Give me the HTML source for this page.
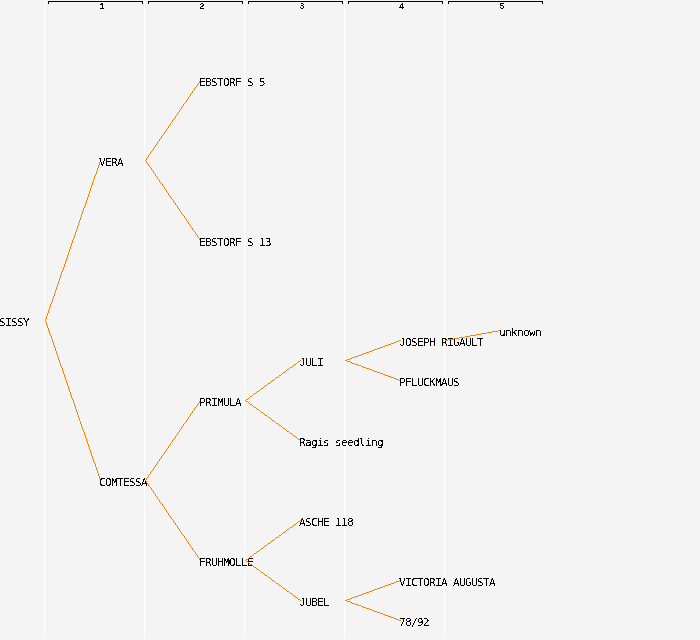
<!DOCTYPE html>
<html><head><meta charset="utf-8"><title>Pedigree</title>
<style>
html,body{margin:0;padding:0;background:#f4f4f4;width:700px;height:640px;overflow:hidden}
svg{display:block;position:absolute;left:0;top:0;will-change:transform}
.t{font-family:"DejaVu Sans Mono", "Liberation Mono", monospace;font-size:11.0px;fill:#000}
.m{font-size:10.5px}
.j{font-family:"Liberation Sans",sans-serif;font-size:11.5px}
.n{font-family:"Liberation Mono","DejaVu Sans Mono",monospace;font-size:9.5px;font-weight:bold;fill:#000}
</style></head><body>
<svg width="700" height="640" viewBox="0 0 700 640">
<defs><filter id="th" x="-10" y="-10" width="720" height="660" filterUnits="userSpaceOnUse" color-interpolation-filters="sRGB"><feComponentTransfer><feFuncA type="discrete" tableValues="0 0 1 1"/></feComponentTransfer></filter><filter id="thn" x="90" y="-5" width="430" height="20" filterUnits="userSpaceOnUse" color-interpolation-filters="sRGB"><feComponentTransfer><feFuncA type="discrete" tableValues="0 0 0 1 1"/></feComponentTransfer></filter></defs>
<rect x="-10" y="-10" width="720" height="660" fill="#f4f4f4"/>
<path fill="#fff" shape-rendering="crispEdges" d="M44 1h1v637h-1zM144 1h1v637h-1zM244 1h1v637h-1zM344 1h1v637h-1zM444 1h1v637h-1z"/>
<path fill="#000" shape-rendering="crispEdges" d="M48 1H143v3h-1v-2H49v2h-1zM148 1H243v3h-1v-2H149v2h-1zM248 1H343v3h-1v-2H249v2h-1zM348 1H443v3h-1v-2H349v2h-1zM448 1H543v3h-1v-2H449v2h-1z"/>
<g class="n" filter="url(#thn)"><text x="99" y="9">1</text><text x="199" y="9">2</text><text x="299" y="9">3</text><text x="399" y="9">4</text><text x="499" y="9">5</text></g>
<g class="t" filter="url(#th)"><text x="-1 5 11 17 23" y="326">SISSY</text></g>
<path fill="#ff8000" shape-rendering="crispEdges" d="M45 319v2h1v-2zM46 316v3h1v-3zM47 313v3h1v-3zM48 310v3h1v-3zM49 307v3h1v-3zM50 304v3h1v-3zM51 302v2h1v-2zM52 299v3h1v-3zM53 296v3h1v-3zM54 293v3h1v-3zM55 290v3h1v-3zM56 287v3h1v-3zM57 284v3h1v-3zM58 281v3h1v-3zM59 278v3h1v-3zM60 275v3h1v-3zM61 272v3h1v-3zM62 270v2h1v-2zM63 267v3h1v-3zM64 264v3h1v-3zM65 261v3h1v-3zM66 258v3h1v-3zM67 255v3h1v-3zM68 252v3h1v-3zM69 249v3h1v-3zM70 246v3h1v-3zM71 243v3h1v-3zM72 240v3h1v-3zM73 238v2h1v-2zM74 235v3h1v-3zM75 232v3h1v-3zM76 229v3h1v-3zM77 226v3h1v-3zM78 223v3h1v-3zM79 220v3h1v-3zM80 217v3h1v-3zM81 214v3h1v-3zM82 211v3h1v-3zM83 208v3h1v-3zM84 206v2h1v-2zM85 203v3h1v-3zM86 200v3h1v-3zM87 197v3h1v-3zM88 194v3h1v-3zM89 191v3h1v-3zM90 188v3h1v-3zM91 185v3h1v-3zM92 182v3h1v-3zM93 179v3h1v-3zM94 176v3h1v-3zM95 174v2h1v-2zM96 171v3h1v-3zM97 168v3h1v-3zM98 165v3h1v-3zM99 162v3h1v-3zM100 160v2h1v-2zM45 320v2h1v-2zM46 322v3h1v-3zM47 325v3h1v-3zM48 328v3h1v-3zM49 331v3h1v-3zM50 334v2h1v-2zM51 336v3h1v-3zM52 339v3h1v-3zM53 342v3h1v-3zM54 345v3h1v-3zM55 348v3h1v-3zM56 351v3h1v-3zM57 354v3h1v-3zM58 357v3h1v-3zM59 360v3h1v-3zM60 363v3h1v-3zM61 366v2h1v-2zM62 368v3h1v-3zM63 371v3h1v-3zM64 374v3h1v-3zM65 377v3h1v-3zM66 380v3h1v-3zM67 383v3h1v-3zM68 386v3h1v-3zM69 389v3h1v-3zM70 392v3h1v-3zM71 395v3h1v-3zM72 398v2h1v-2zM73 400v3h1v-3zM74 403v3h1v-3zM75 406v3h1v-3zM76 409v3h1v-3zM77 412v3h1v-3zM78 415v3h1v-3zM79 418v3h1v-3zM80 421v3h1v-3zM81 424v3h1v-3zM82 427v3h1v-3zM83 430v2h1v-2zM84 432v3h1v-3zM85 435v3h1v-3zM86 438v3h1v-3zM87 441v3h1v-3zM88 444v3h1v-3zM89 447v3h1v-3zM90 450v3h1v-3zM91 453v3h1v-3zM92 456v3h1v-3zM93 459v3h1v-3zM94 462v2h1v-2zM95 464v3h1v-3zM96 467v3h1v-3zM97 470v3h1v-3zM98 473v3h1v-3zM99 476v3h1v-3zM100 479v2h1v-2z"/>
<g class="t" filter="url(#th)"><text x="99 105 111 117" y="166">VERA</text><text x="99 105 111.5 117 123 129 135 141" y="486">CO<tspan class="m">M</tspan>TESSA</text></g>
<path fill="#ff8000" shape-rendering="crispEdges" d="M145 160v1h1v-1zM146 158v2h1v-2zM147 157v1h1v-1zM148 155v2h1v-2zM149 154v1h1v-1zM150 152v2h1v-2zM151 151v1h1v-1zM152 150v1h1v-1zM153 148v2h1v-2zM154 147v1h1v-1zM155 145v2h1v-2zM156 144v1h1v-1zM157 142v2h1v-2zM158 141v1h1v-1zM159 139v2h1v-2zM160 138v1h1v-1zM161 136v2h1v-2zM162 135v1h1v-1zM163 134v1h1v-1zM164 132v2h1v-2zM165 131v1h1v-1zM166 129v2h1v-2zM167 128v1h1v-1zM168 126v2h1v-2zM169 125v1h1v-1zM170 123v2h1v-2zM171 122v1h1v-1zM172 120v2h1v-2zM173 119v1h1v-1zM174 118v1h1v-1zM175 116v2h1v-2zM176 115v1h1v-1zM177 113v2h1v-2zM178 112v1h1v-1zM179 110v2h1v-2zM180 109v1h1v-1zM181 107v2h1v-2zM182 106v1h1v-1zM183 104v2h1v-2zM184 103v1h1v-1zM185 102v1h1v-1zM186 100v2h1v-2zM187 99v1h1v-1zM188 97v2h1v-2zM189 96v1h1v-1zM190 94v2h1v-2zM191 93v1h1v-1zM192 91v2h1v-2zM193 90v1h1v-1zM194 88v2h1v-2zM195 87v1h1v-1zM196 86v1h1v-1zM197 84v2h1v-2zM198 83v1h1v-1zM199 81v2h1v-2zM200 80v1h1v-1zM145 160v1h1v-1zM146 161v2h1v-2zM147 163v1h1v-1zM148 164v2h1v-2zM149 166v1h1v-1zM150 167v1h1v-1zM151 168v2h1v-2zM152 170v1h1v-1zM153 171v2h1v-2zM154 173v1h1v-1zM155 174v2h1v-2zM156 176v1h1v-1zM157 177v2h1v-2zM158 179v1h1v-1zM159 180v2h1v-2zM160 182v1h1v-1zM161 183v1h1v-1zM162 184v2h1v-2zM163 186v1h1v-1zM164 187v2h1v-2zM165 189v1h1v-1zM166 190v2h1v-2zM167 192v1h1v-1zM168 193v2h1v-2zM169 195v1h1v-1zM170 196v2h1v-2zM171 198v1h1v-1zM172 199v1h1v-1zM173 200v2h1v-2zM174 202v1h1v-1zM175 203v2h1v-2zM176 205v1h1v-1zM177 206v2h1v-2zM178 208v1h1v-1zM179 209v2h1v-2zM180 211v1h1v-1zM181 212v2h1v-2zM182 214v1h1v-1zM183 215v1h1v-1zM184 216v2h1v-2zM185 218v1h1v-1zM186 219v2h1v-2zM187 221v1h1v-1zM188 222v2h1v-2zM189 224v1h1v-1zM190 225v2h1v-2zM191 227v1h1v-1zM192 228v2h1v-2zM193 230v1h1v-1zM194 231v1h1v-1zM195 232v2h1v-2zM196 234v1h1v-1zM197 235v2h1v-2zM198 237v1h1v-1zM199 238v2h1v-2zM200 240v1h1v-1zM145 480v1h1v-1zM146 478v2h1v-2zM147 477v1h1v-1zM148 475v2h1v-2zM149 474v1h1v-1zM150 472v2h1v-2zM151 471v1h1v-1zM152 470v1h1v-1zM153 468v2h1v-2zM154 467v1h1v-1zM155 465v2h1v-2zM156 464v1h1v-1zM157 462v2h1v-2zM158 461v1h1v-1zM159 459v2h1v-2zM160 458v1h1v-1zM161 456v2h1v-2zM162 455v1h1v-1zM163 454v1h1v-1zM164 452v2h1v-2zM165 451v1h1v-1zM166 449v2h1v-2zM167 448v1h1v-1zM168 446v2h1v-2zM169 445v1h1v-1zM170 443v2h1v-2zM171 442v1h1v-1zM172 440v2h1v-2zM173 439v1h1v-1zM174 438v1h1v-1zM175 436v2h1v-2zM176 435v1h1v-1zM177 433v2h1v-2zM178 432v1h1v-1zM179 430v2h1v-2zM180 429v1h1v-1zM181 427v2h1v-2zM182 426v1h1v-1zM183 424v2h1v-2zM184 423v1h1v-1zM185 422v1h1v-1zM186 420v2h1v-2zM187 419v1h1v-1zM188 417v2h1v-2zM189 416v1h1v-1zM190 414v2h1v-2zM191 413v1h1v-1zM192 411v2h1v-2zM193 410v1h1v-1zM194 408v2h1v-2zM195 407v1h1v-1zM196 406v1h1v-1zM197 404v2h1v-2zM198 403v1h1v-1zM199 401v2h1v-2zM200 400v1h1v-1zM145 480v1h1v-1zM146 481v2h1v-2zM147 483v1h1v-1zM148 484v2h1v-2zM149 486v1h1v-1zM150 487v1h1v-1zM151 488v2h1v-2zM152 490v1h1v-1zM153 491v2h1v-2zM154 493v1h1v-1zM155 494v2h1v-2zM156 496v1h1v-1zM157 497v2h1v-2zM158 499v1h1v-1zM159 500v2h1v-2zM160 502v1h1v-1zM161 503v1h1v-1zM162 504v2h1v-2zM163 506v1h1v-1zM164 507v2h1v-2zM165 509v1h1v-1zM166 510v2h1v-2zM167 512v1h1v-1zM168 513v2h1v-2zM169 515v1h1v-1zM170 516v2h1v-2zM171 518v1h1v-1zM172 519v1h1v-1zM173 520v2h1v-2zM174 522v1h1v-1zM175 523v2h1v-2zM176 525v1h1v-1zM177 526v2h1v-2zM178 528v1h1v-1zM179 529v2h1v-2zM180 531v1h1v-1zM181 532v2h1v-2zM182 534v1h1v-1zM183 535v1h1v-1zM184 536v2h1v-2zM185 538v1h1v-1zM186 539v2h1v-2zM187 541v1h1v-1zM188 542v2h1v-2zM189 544v1h1v-1zM190 545v2h1v-2zM191 547v1h1v-1zM192 548v2h1v-2zM193 550v1h1v-1zM194 551v1h1v-1zM195 552v2h1v-2zM196 554v1h1v-1zM197 555v2h1v-2zM198 557v1h1v-1zM199 558v2h1v-2zM200 560v1h1v-1z"/>
<g class="t" filter="url(#th)"><text x="199 205 211 217 223 229 235 241 247 253 259" y="86">EBSTORF S 5</text><text x="199 205 211 217 223 229 235 241 247 253 259 265" y="246">EBSTORF S 13</text><text x="199 205 211 217.5 223 229 235" y="406">PRI<tspan class="m">M</tspan>ULA</text><text x="199 205 211 217 223.5 229 235 241 247" y="566">FRUH<tspan class="m">M</tspan>OLLE</text></g>
<path fill="#ff8000" shape-rendering="crispEdges" d="M300 360h1v1h-1zM298 361h2v1h-2zM297 362h1v1h-1zM296 363h1v1h-1zM294 364h2v1h-2zM293 365h1v1h-1zM292 366h1v1h-1zM290 367h2v1h-2zM289 368h1v1h-1zM287 369h2v1h-2zM286 370h1v1h-1zM285 371h1v1h-1zM283 372h2v1h-2zM282 373h1v1h-1zM281 374h1v1h-1zM279 375h2v1h-2zM278 376h1v1h-1zM276 377h2v1h-2zM275 378h1v1h-1zM274 379h1v1h-1zM272 380h2v1h-2zM271 381h1v1h-1zM270 382h1v1h-1zM268 383h2v1h-2zM267 384h1v1h-1zM265 385h2v1h-2zM264 386h1v1h-1zM263 387h1v1h-1zM261 388h2v1h-2zM260 389h1v1h-1zM259 390h1v1h-1zM257 391h2v1h-2zM256 392h1v1h-1zM254 393h2v1h-2zM253 394h1v1h-1zM252 395h1v1h-1zM250 396h2v1h-2zM249 397h1v1h-1zM248 398h1v1h-1zM246 399h2v1h-2zM245 400h1v1h-1zM245 400h1v1h-1zM246 401h2v1h-2zM248 402h1v1h-1zM249 403h1v1h-1zM250 404h2v1h-2zM252 405h1v1h-1zM253 406h1v1h-1zM254 407h2v1h-2zM256 408h1v1h-1zM257 409h2v1h-2zM259 410h1v1h-1zM260 411h1v1h-1zM261 412h2v1h-2zM263 413h1v1h-1zM264 414h1v1h-1zM265 415h2v1h-2zM267 416h1v1h-1zM268 417h2v1h-2zM270 418h1v1h-1zM271 419h1v1h-1zM272 420h2v1h-2zM274 421h1v1h-1zM275 422h1v1h-1zM276 423h2v1h-2zM278 424h1v1h-1zM279 425h2v1h-2zM281 426h1v1h-1zM282 427h1v1h-1zM283 428h2v1h-2zM285 429h1v1h-1zM286 430h1v1h-1zM287 431h2v1h-2zM289 432h1v1h-1zM290 433h2v1h-2zM292 434h1v1h-1zM293 435h1v1h-1zM294 436h2v1h-2zM296 437h1v1h-1zM297 438h1v1h-1zM298 439h2v1h-2zM300 440h1v1h-1zM300 520h1v1h-1zM298 521h2v1h-2zM297 522h1v1h-1zM296 523h1v1h-1zM294 524h2v1h-2zM293 525h1v1h-1zM292 526h1v1h-1zM290 527h2v1h-2zM289 528h1v1h-1zM287 529h2v1h-2zM286 530h1v1h-1zM285 531h1v1h-1zM283 532h2v1h-2zM282 533h1v1h-1zM281 534h1v1h-1zM279 535h2v1h-2zM278 536h1v1h-1zM276 537h2v1h-2zM275 538h1v1h-1zM274 539h1v1h-1zM272 540h2v1h-2zM271 541h1v1h-1zM270 542h1v1h-1zM268 543h2v1h-2zM267 544h1v1h-1zM265 545h2v1h-2zM264 546h1v1h-1zM263 547h1v1h-1zM261 548h2v1h-2zM260 549h1v1h-1zM259 550h1v1h-1zM257 551h2v1h-2zM256 552h1v1h-1zM254 553h2v1h-2zM253 554h1v1h-1zM252 555h1v1h-1zM250 556h2v1h-2zM249 557h1v1h-1zM248 558h1v1h-1zM246 559h2v1h-2zM245 560h1v1h-1zM245 560h1v1h-1zM246 561h2v1h-2zM248 562h1v1h-1zM249 563h1v1h-1zM250 564h2v1h-2zM252 565h1v1h-1zM253 566h1v1h-1zM254 567h2v1h-2zM256 568h1v1h-1zM257 569h2v1h-2zM259 570h1v1h-1zM260 571h1v1h-1zM261 572h2v1h-2zM263 573h1v1h-1zM264 574h1v1h-1zM265 575h2v1h-2zM267 576h1v1h-1zM268 577h2v1h-2zM270 578h1v1h-1zM271 579h1v1h-1zM272 580h2v1h-2zM274 581h1v1h-1zM275 582h1v1h-1zM276 583h2v1h-2zM278 584h1v1h-1zM279 585h2v1h-2zM281 586h1v1h-1zM282 587h1v1h-1zM283 588h2v1h-2zM285 589h1v1h-1zM286 590h1v1h-1zM287 591h2v1h-2zM289 592h1v1h-1zM290 593h2v1h-2zM292 594h1v1h-1zM293 595h1v1h-1zM294 596h2v1h-2zM296 597h1v1h-1zM297 598h1v1h-1zM298 599h2v1h-2zM300 600h1v1h-1z"/>
<g class="t" filter="url(#th)"><text x="299.5 305 311 317" y="366"><tspan class="j">J</tspan>ULI</text><text x="299 305 311 317 323 329 335 341 347 353 359 365 371 377" y="446">Ragis seedling</text><text x="299 305 311 317 323 329 335 341 347" y="526">ASCHE 118</text><text x="299.5 305 311 317 323" y="606"><tspan class="j">J</tspan>UBEL</text></g>
<path fill="#ff8000" shape-rendering="crispEdges" d="M399 340h2v1h-2zM396 341h3v1h-3zM394 342h2v1h-2zM391 343h3v1h-3zM388 344h3v1h-3zM385 345h3v1h-3zM383 346h2v1h-2zM380 347h3v1h-3zM377 348h3v1h-3zM374 349h3v1h-3zM372 350h2v1h-2zM369 351h3v1h-3zM366 352h3v1h-3zM363 353h3v1h-3zM361 354h2v1h-2zM358 355h3v1h-3zM355 356h3v1h-3zM352 357h3v1h-3zM350 358h2v1h-2zM347 359h3v1h-3zM345 360h2v1h-2zM345 360h2v1h-2zM347 361h3v1h-3zM350 362h2v1h-2zM352 363h3v1h-3zM355 364h3v1h-3zM358 365h3v1h-3zM361 366h2v1h-2zM363 367h3v1h-3zM366 368h3v1h-3zM369 369h3v1h-3zM372 370h2v1h-2zM374 371h3v1h-3zM377 372h3v1h-3zM380 373h3v1h-3zM383 374h2v1h-2zM385 375h3v1h-3zM388 376h3v1h-3zM391 377h3v1h-3zM394 378h2v1h-2zM396 379h3v1h-3zM399 380h2v1h-2zM399 580h2v1h-2zM396 581h3v1h-3zM394 582h2v1h-2zM391 583h3v1h-3zM388 584h3v1h-3zM385 585h3v1h-3zM383 586h2v1h-2zM380 587h3v1h-3zM377 588h3v1h-3zM374 589h3v1h-3zM372 590h2v1h-2zM369 591h3v1h-3zM366 592h3v1h-3zM363 593h3v1h-3zM361 594h2v1h-2zM358 595h3v1h-3zM355 596h3v1h-3zM352 597h3v1h-3zM350 598h2v1h-2zM347 599h3v1h-3zM345 600h2v1h-2zM345 600h2v1h-2zM347 601h3v1h-3zM350 602h2v1h-2zM352 603h3v1h-3zM355 604h3v1h-3zM358 605h3v1h-3zM361 606h2v1h-2zM363 607h3v1h-3zM366 608h3v1h-3zM369 609h3v1h-3zM372 610h2v1h-2zM374 611h3v1h-3zM377 612h3v1h-3zM380 613h3v1h-3zM383 614h2v1h-2zM385 615h3v1h-3zM388 616h3v1h-3zM391 617h3v1h-3zM394 618h2v1h-2zM396 619h3v1h-3zM399 620h2v1h-2z"/>
<g class="t" filter="url(#th)"><text x="399.5 405 411 417 423 429 435 441 447 453 459 465 471 477" y="346"><tspan class="j">J</tspan>OSEPH RIGAULT</text><text x="399 405 411 417 423 429 435.5 441 447 453" y="386">PFLUCK<tspan class="m">M</tspan>AUS</text><text x="399 405 411 417 423 429 435 441 447 453 459 465 471 477 483 489" y="586">VICTORIA AUGUSTA</text><text x="399 405 411 417 423" y="626">78/92</text></g>
<path fill="#ff8000" shape-rendering="crispEdges" d="M498 330h3v1h-3zM492 331h6v1h-6zM487 332h5v1h-5zM481 333h6v1h-6zM476 334h5v1h-5zM470 335h6v1h-6zM465 336h5v1h-5zM459 337h6v1h-6zM454 338h5v1h-5zM448 339h6v1h-6zM445 340h3v1h-3z"/>
<g class="t" filter="url(#th)"><text x="499 505 511 517 523 529 535" y="336">unknown</text></g>
</svg>
</body></html>
